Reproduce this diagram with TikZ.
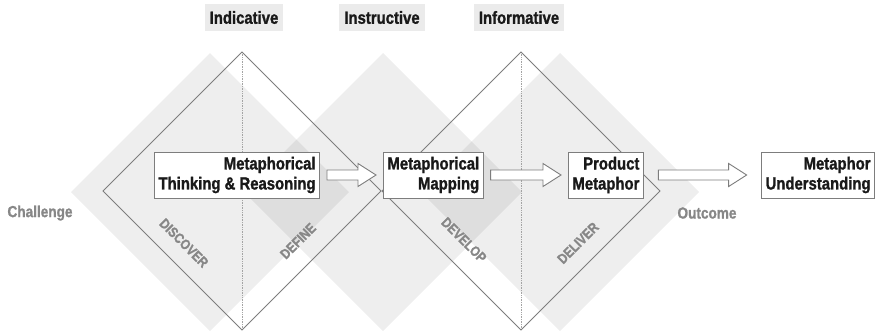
\documentclass[tikz,border=0pt]{standalone}
\usepackage{fontspec}
\setmainfont{Liberation Sans}[FakeStretch=0.85, BoldFeatures={FakeBold=1.2}]
\usepackage{tikz}
\usetikzlibrary{calc}
\definecolor{lineagris}{RGB}{125, 125, 125}
\definecolor{textogris}{RGB}{135, 135, 135}
\definecolor{fondo}{RGB}{235, 235, 235}
\definecolor{tinta}{RGB}{25, 25, 25}
\tikzset{
    wing/.style={fill=black, fill opacity=0.065},
    frame/.style={draw=lineagris, line width=0.9pt, line join=miter},
    axis/.style={draw=lineagris!70, densely dotted, line width=0.7pt},
    head/.style={fill=fondo, text=tinta, inner xsep=5pt, minimum height=27pt, font=\bfseries\fontsize{17.5}{20}\selectfont},
    side/.style={text=textogris, inner sep=0pt, font=\bfseries\fontsize{16}{18}\selectfont},
    phaselbl/.style={text=textogris, inner sep=0pt, font=\bfseries\fontsize{14}{16}\selectfont},
    stage/.style={draw=lineagris, fill=white, text=tinta, line width=0.9pt, align=right, inner xsep=4pt, minimum height=46pt, font=\bfseries\fontsize{17.5}{20}\selectfont},
    flow/.style={draw=lineagris, fill=white, line width=0.9pt, line join=miter},
}
% hollow block arrow between two boxes: from, to, gap
\newcommand{\flowarrow}[3]{%
    \draw[flow] let \p1=(#1.east), \p2=(#2.west) in
        (\x1+#3pt,\y1+5pt) -- (\x2-#3pt-18pt,\y1+5pt) -- (\x2-#3pt-18pt,\y1+11.5pt)
        -- (\x2-#3pt,\y1) -- (\x2-#3pt-18pt,\y1-11.5pt) -- (\x2-#3pt-18pt,\y1-5pt)
        -- (\x1+#3pt,\y1-5pt) -- cycle;}
\begin{document}
\begin{tikzpicture}[x=1pt, y=-1pt]
    \useasboundingbox (0,0) rectangle (877,333);

    % shaded diamonds
    \foreach \cx in {210,383,560}
        \fill[wing] (\cx,53) -- (\cx+139,192) -- (\cx,331) -- (\cx-139,192) -- cycle;

    % double diamond
    \foreach \cx in {242,521}{
        \draw[axis] (\cx,52) -- (\cx,330);
        \draw[frame] (\cx,52) -- (\cx+139,191) -- (\cx,330) -- (\cx-139,191) -- cycle;
    }

    \node[head] (ind) at (244,17.5) {Indicative};
    \node[head] (ins) at (382,17.5) {Instructive};
    \node[head] (inf) at (519,17.5) {Informative};

    \node[side] (chal) at (40,213) {Challenge};
    \node[side] (outc) at (707,213) {Outcome};

    \node[phaselbl, rotate=-45] (disc) at (184,243) {DISCOVER};
    \node[phaselbl, rotate=45] (defi) at (298,241) {DEFINE};
    \node[phaselbl, rotate=-45] (deve) at (464,240) {DEVELOP};
    \node[phaselbl, rotate=45] (deli) at (578,243) {DELIVER};

    \node[stage, anchor=east] (think) at (320,175) {Metaphorical\\Thinking \& Reasoning};
    \node[stage, anchor=west] (map) at (383,175) {Metaphorical\\Mapping};
    \node[stage, anchor=west] (prod) at (568,175) {Product\\Metaphor};
    \node[stage, anchor=east] (under) at (875,175) {Metaphor\\Understanding};

    \flowarrow{think}{map}{7}
    \flowarrow{map}{prod}{7}
    \flowarrow{prod}{under}{14.5}
\end{tikzpicture}
\end{document}
